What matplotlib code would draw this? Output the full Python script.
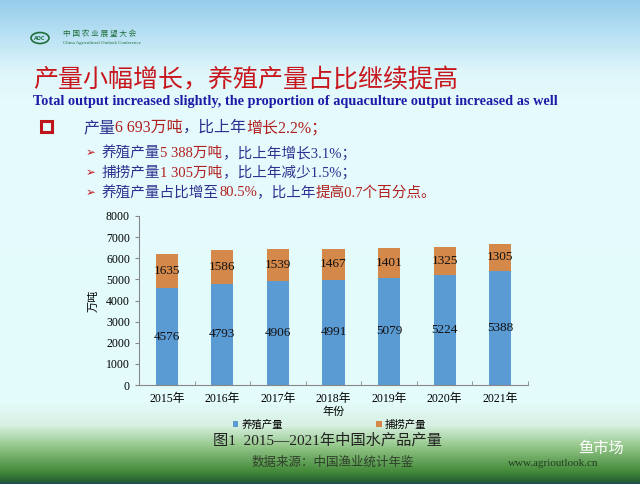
import numpy as np
import matplotlib.pyplot as plt
from matplotlib.patches import Rectangle, Ellipse

years = ["2015年", "2016年", "2017年", "2018年", "2019年", "2020年", "2021年"]
aquaculture = [4576, 4793, 4906, 4991, 5079, 5224, 5388]
capture = [1635, 1586, 1539, 1467, 1401, 1325, 1305]
series_names = ["养殖产量", "捕捞产量"]

SERIF = ["Liberation Serif", "Noto Sans CJK SC"]
CJK = ["Noto Sans CJK SC", "DejaVu Sans"]
NAVY = "#2e3190"
RED = "#b0201e"

W, H = 640, 484
fig = plt.figure(figsize=(6.4, 4.84), dpi=100)

# slide background
bg = fig.add_axes([0, 0, 1, 1], zorder=-2)
stops_y = [0, 40, 70, 100, 400, 425, 445, 470, 480, 484]
stops_c = np.array([(150, 205, 235), (190, 228, 245), (222, 245, 250), (228, 250, 252),
                    (228, 252, 252), (215, 240, 225), (150, 200, 140), (70, 140, 60),
                    (40, 100, 50), (30, 70, 90)]) / 255
rows = np.arange(H)
grad = np.stack([np.interp(rows, stops_y, stops_c[:, k]) for k in range(3)], axis=-1)
bg.imshow(grad[:, None, :], aspect="auto", extent=[0, W, H, 0])
bg.set_xlim(0, W)
bg.set_ylim(H, 0)
bg.axis("off")


def px(x, y):
    return x / W, 1 - y / H


renderer = fig.canvas.get_renderer()


def rich(x, y, parts, size, family=SERIF, weight="normal"):
    fx, fy = px(x, y)
    for s, c in parts:
        t = fig.text(fx, fy, s, color=c, fontsize=size, family=family,
                     weight=weight, va="center", ha="left")
        bb = t.get_window_extent(renderer)
        fx += bb.width / (W)


# header
bg.add_patch(Ellipse((40, 38), 18, 11, fill=False, edgecolor="#1f6f3a", lw=1.2))
bg.text(40, 38, "AOC", fontsize=3.5, color="#1f6f3a", ha="center", va="center", weight="bold")
fig.text(*px(63, 34), "中 国 农 业 展 望 大 会", fontsize=5.5, color="#1f6f3a", family=CJK, va="center")
fig.text(*px(63, 43), "China Agricultural Outlook Conference", fontsize=3.5, color="#1f6f3a",
         family="Liberation Serif", va="center")
fig.text(*px(33, 80), "产量小幅增长，养殖产量占比继续提高", fontsize=18, color="#c8161d",
         family=CJK, va="center")
fig.text(*px(33, 102), "Total output increased slightly, the proportion of aquaculture output increased as well",
         fontsize=10.25, color="#1c1ca8", family="Liberation Serif", weight="bold", va="center")

# bullets
bg.add_patch(Rectangle((41, 121), 11, 11, fill=False, edgecolor="#c0141c", lw=2.2))
rich(83, 128, [("产量", NAVY), ("6 693万吨", RED), ("，比上年", NAVY), ("增长2.2%；", RED)], 11.5)
lines = [
    [("养殖产量", NAVY), ("5 388万吨", RED), ("，比上年增长3.1%；", NAVY)],
    [("捕捞产量", NAVY), ("1 305万吨", RED), ("，比上年减少1.5%；", NAVY)],
    [("养殖产量占比增至", NAVY), ("80.5%", RED), ("，比上年", NAVY), ("提高0.7个百分点。", RED)],
]
for i, parts in enumerate(lines):
    yy = 153 + i * 20
    fig.text(*px(86, yy), "➢", fontsize=8.5, color="#c0141c", family="DejaVu Sans", va="center")
    rich(102, yy, parts, 10.5)

# chart
ax = fig.add_axes([139 / W, 1 - 385 / H, 389 / W, 169 / H])
ax.set_facecolor("none")
x = np.arange(len(years))
b1 = ax.bar(x, aquaculture, width=0.4, color="#5b9bd3", label=series_names[0])
b2 = ax.bar(x, capture, width=0.4, bottom=aquaculture, color="#d4894a", label=series_names[1])
for i in range(len(years)):
    ax.text(x[i], aquaculture[i] / 2, str(aquaculture[i]), ha="center", va="center",
            fontsize=9.5, family=SERIF, color="#111111")
    ax.text(x[i], aquaculture[i] + capture[i] / 2, str(capture[i]), ha="center", va="center",
            fontsize=9.5, family=SERIF, color="#111111")
ax.set_xlim(-0.5, 6.5)
ax.set_ylim(0, 8000)
ax.set_yticks(np.arange(0, 8001, 1000))
ax.set_xticks(x)
ax.set_xticklabels(years, family=SERIF, fontsize=8.5)
ax.set_xticks(np.arange(-0.5, 7, 1), minor=True)
ax.tick_params(axis="x", which="major", length=0, pad=6)
ax.tick_params(axis="x", which="minor", length=3, direction="in", color="#888888")
ax.tick_params(axis="y", length=3, direction="out", color="#888888", labelsize=8.5)
for lab in ax.get_yticklabels():
    lab.set_family(SERIF)
for s in ["top", "right"]:
    ax.spines[s].set_visible(False)
for s in ["left", "bottom"]:
    ax.spines[s].set_color("#888888")
    ax.spines[s].set_linewidth(0.8)
ax.set_ylabel("万吨", family=CJK, fontsize=8, labelpad=5)
ax.set_xlabel("年份", family=CJK, fontsize=8, labelpad=1)
ax.legend(handles=[b1, b2], ncol=2, loc="upper center", bbox_to_anchor=(0.49, -0.15),
          frameon=False, prop={"family": CJK, "size": 7.5}, handlelength=0.5,
          handleheight=0.5, handletextpad=0.3, columnspacing=9)

fig.text(*px(213, 441), "图1  2015—2021年中国水产品产量", fontsize=11, color="#222222",
         family=SERIF, va="center")
fig.text(*px(252, 462), "数据来源：中国渔业统计年鉴", fontsize=9, color="#2f3f2a",
         family=CJK, va="center")
fig.text(*px(508, 463), "www.agrioutlook.cn", fontsize=8, color="#1f3f1f",
         family="Liberation Serif", va="center")
fig.text(*px(578, 448), "鱼市场", fontsize=11, color="white", family=CJK, va="center")

fig.savefig("out.png", dpi=100)
